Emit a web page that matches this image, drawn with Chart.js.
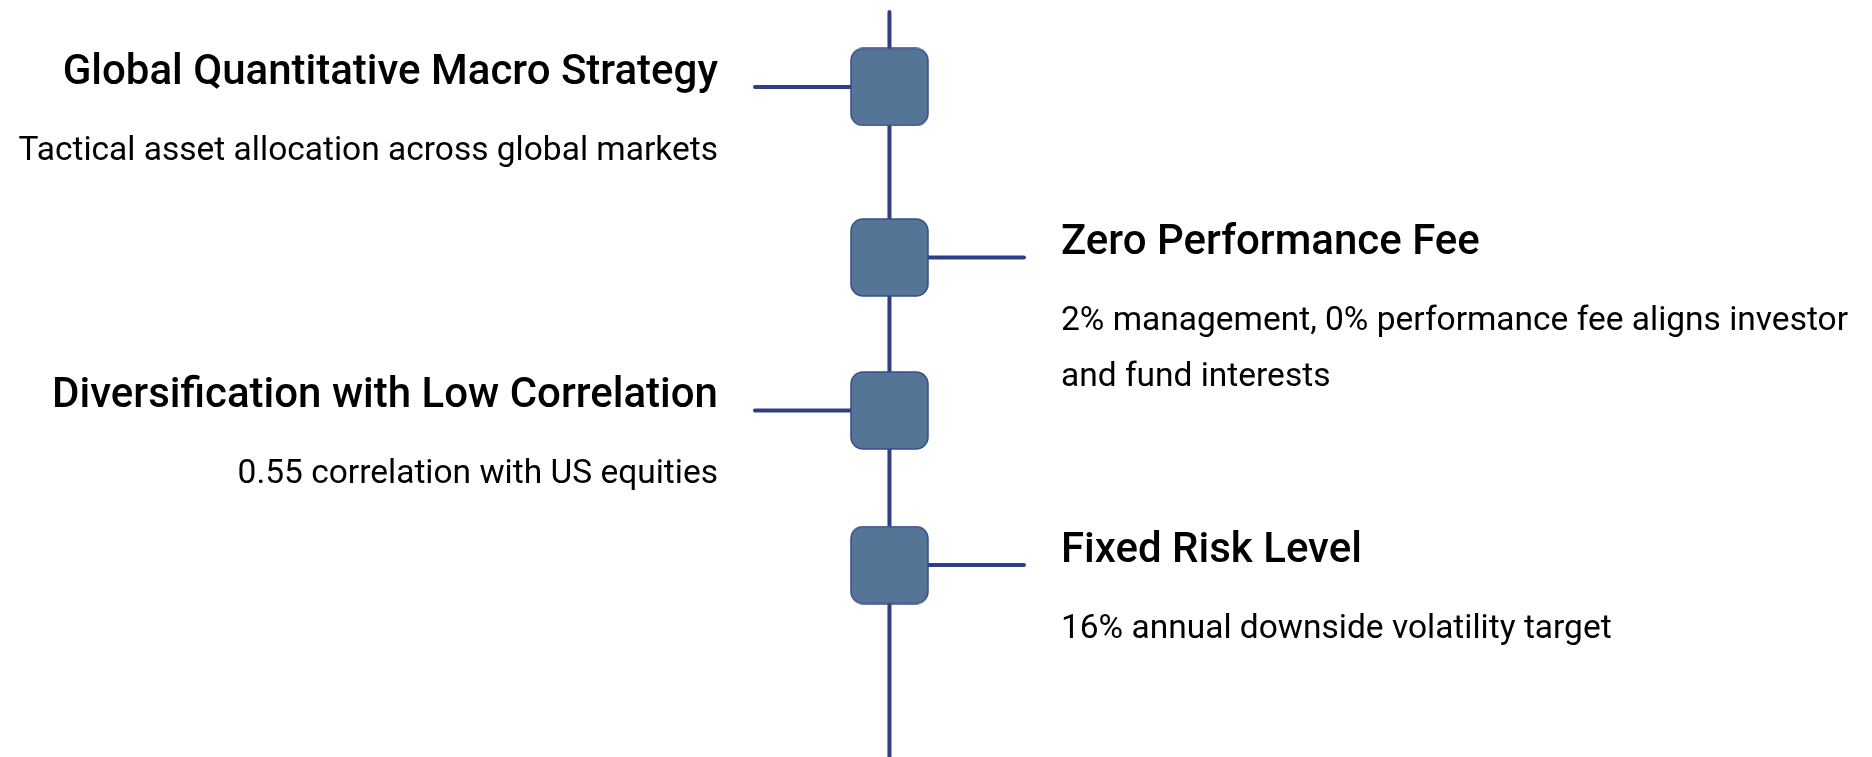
<!DOCTYPE html>
<html>
<head>
<meta charset="utf-8">
<script src="https://cdn.jsdelivr.net/npm/chart.js@4.4.0/dist/chart.umd.min.js"></script>
<style>
  html, body { margin: 0; padding: 0; background: #fff; }
  #wrap { width: 1872px; height: 757px; position: relative; }
</style>
</head>
<body>
<div id="wrap"><canvas id="timeline"></canvas></div>
<script>
// ========================== Datos
const titles = [
    "Global Quantitative Macro Strategy",
    "Zero Performance Fee",
    "Diversification with Low Correlation",
    "Fixed Risk Level"
];
const descriptions = [
    "Tactical asset allocation across global markets",
    "2% management, 0% performance fee aligns investor and fund interests",
    "0.55 correlation with US equities",
    "16% annual downside volatility target"
];
const sides = ["left", "right", "left", "right"];
const steps = [0, 1.07, 2.03, 3];      // posición de cada nodo sobre el eje
const spineRange = [-0.47, 4.4];

// ========================== Estilos
const LINE = "#2f3e84";
const BOX_FILL = "#557597";
const BOX_BORDER = "#3a4b8b";
const TEXT_GAP = 37;

// caja redondeada usada como pointStyle
function makeBox(size, r) {
    const c = document.createElement("canvas");
    c.width = size + 2;
    c.height = size + 2;
    const g = c.getContext("2d");
    g.beginPath();
    g.roundRect(1, 1, size, size, r);
    g.fillStyle = BOX_FILL;
    g.fill();
    g.lineWidth = 1.5;
    g.strokeStyle = BOX_BORDER;
    g.stroke();
    return c;
}

function wrap(ctx, text, maxW) {
    const words = text.split(" ");
    const lines = [];
    let cur = "";
    words.forEach(w => {
        const test = cur ? cur + " " + w : w;
        if (cur && ctx.measureText(test).width > maxW) {
            lines.push(cur);
            cur = w;
        } else {
            cur = test;
        }
    });
    if (cur) lines.push(cur);
    return lines;
}

// ========================== Textos de cada nodo
const nodeText = {
    id: "nodeText",
    afterDatasetsDraw(chart) {
        const { ctx, width } = chart;
        const x = chart.scales.x, y = chart.scales.y;
        ctx.save();
        ctx.fillStyle = "#000";
        ctx.textBaseline = "alphabetic";
        titles.forEach((t, i) => {
            const left = sides[i] === "left";
            const cy = y.getPixelForValue(steps[i]);
            const tx = left ? x.getPixelForValue(-1) - TEXT_GAP : x.getPixelForValue(1) + TEXT_GAP;
            ctx.textAlign = left ? "right" : "left";
            ctx.font = "500 42px Roboto";
            ctx.fillText(t, tx, cy - 3);
            ctx.font = "400 33.5px Roboto";
            const maxW = left ? tx - 4 : width - tx - 4;
            wrap(ctx, descriptions[i], maxW).forEach((line, k) => {
                ctx.fillText(line, tx, cy + 73 + k * 56);
            });
        });
        ctx.restore();
    }
};

// ========================== Gráfica
const connectors = steps.map((v, i) => ({
    type: "line",
    order: 1,
    data: [{ x: 0, y: v }, { x: sides[i] === "left" ? -1 : 1, y: v }],
    borderColor: LINE,
    borderWidth: 4,
    borderCapStyle: "round",
    pointRadius: 0
}));

new Chart(document.getElementById("timeline"), {
    type: "scatter",
    data: {
        datasets: [
            {
                type: "scatter",
                order: 0,
                data: steps.map(v => ({ x: 0, y: v })),
                pointStyle: makeBox(77, 12),
                pointRadius: 38
            },
            ...connectors,
            {
                type: "line",
                order: 2,
                data: spineRange.map(v => ({ x: 0, y: v })),
                borderColor: LINE,
                borderWidth: 4,
                borderCapStyle: "round",
                pointRadius: 0
            }
        ]
    },
    options: {
        responsive: true,
        maintainAspectRatio: false,
        animation: false,
        devicePixelRatio: 1,
        layout: { padding: 0, autoPadding: false },
        plugins: {
            legend: { display: false },
            tooltip: { enabled: false }
        },
        scales: {
            x: { type: "linear", display: false, min: -6.613, max: 7.305 },
            y: { type: "linear", display: false, reverse: true, min: -0.546, max: 4.205 }
        }
    },
    plugins: [nodeText]
});
</script>
</body>
</html>
